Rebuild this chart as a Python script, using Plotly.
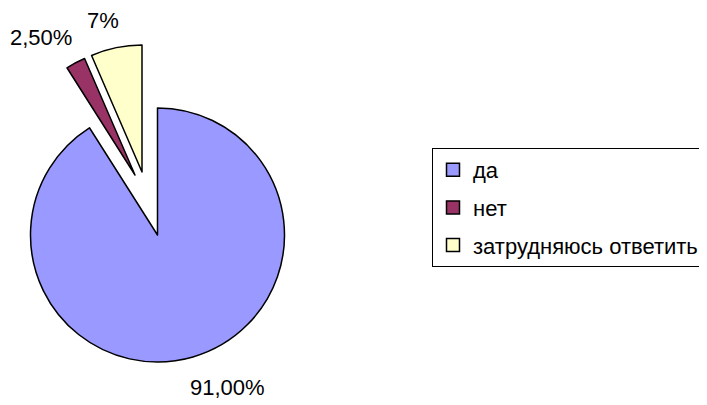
import plotly.graph_objects as go

# ---- data ----
labels = ["да", "нет", "затрудняюсь ответить"]
values = [91, 2.5, 6.5]
value_texts = ["91,00%", "2,50%", "7%"]
colors = ["#9999FF", "#993366", "#FFFFCC"]

# ---- layout constants ----
W, H = 707, 405
OFF = 8          # page body margin of the browser (px)
R = 127          # pie radius in px
# pie centres in screen px: main slice, and the two exploded slices
centres = [(157.5, 235), (135, 175), (142, 172)]
# label centres in screen px
label_pos = [(227, 387), (41, 37), (103, 20)]
FONT = "Arial, Liberation Sans, sans-serif"
FS = 22
LEG_FS = 22
TRANSPARENT = "rgba(0,0,0,0)"


def fx(sx):
    return min(1.0, max(0.0, (sx - OFF) / W))


def fy(sy):
    return min(1.0, max(0.0, (H - (sy - OFF)) / H))


def domain_for(cx, cy, r):
    return dict(x=[fx(cx - r), fx(cx + r)], y=[fy(cy + r), fy(cy - r)])


fig = go.Figure()

# one pie trace per slice so each exploded slice sits where it does in the original
for i, (cx, cy) in enumerate(centres):
    slice_colors = [colors[j] if j == i else TRANSPARENT for j in range(len(labels))]
    line_widths = [1.5 if j == i else 0 for j in range(len(labels))]
    fig.add_trace(go.Pie(
        labels=labels,
        values=values,
        sort=False,
        direction="clockwise",
        rotation=0,
        domain=domain_for(cx, cy, R),
        marker=dict(colors=slice_colors, line=dict(color="black", width=line_widths)),
        textinfo="none",
        showlegend=False,
        hoverinfo="label+percent",
    ))

# value labels
for txt, (sx, sy) in zip(value_texts, label_pos):
    fig.add_annotation(
        x=fx(sx), y=fy(sy), xref="paper", yref="paper",
        text=txt, showarrow=False, xanchor="center", yanchor="middle",
        font=dict(family=FONT, size=FS, color="black"),
    )

# legend entries
for i, lab in enumerate(labels):
    fig.add_trace(go.Scatter(
        x=[None], y=[None], mode="markers", name=lab,
        legendgroup=f"g{i}",
        marker=dict(symbol="square", size=13, color=colors[i],
                    line=dict(color="black", width=1.5)),
    ))

fig.update_layout(
    width=W, height=H,
    margin=dict(l=0, r=0, t=0, b=0, pad=0, autoexpand=False),
    paper_bgcolor="white",
    plot_bgcolor="white",
    xaxis=dict(visible=False),
    yaxis=dict(visible=False),
    font=dict(family=FONT, size=FS, color="black"),
    legend=dict(
        x=fx(432), xanchor="left",
        y=fy(148), yanchor="top",
        bgcolor="white", bordercolor="black", borderwidth=1,
        traceorder="grouped", tracegroupgap=6,
        font=dict(family=FONT, size=LEG_FS, color="black"),
    ),
)

fig.write_html("out.html")
